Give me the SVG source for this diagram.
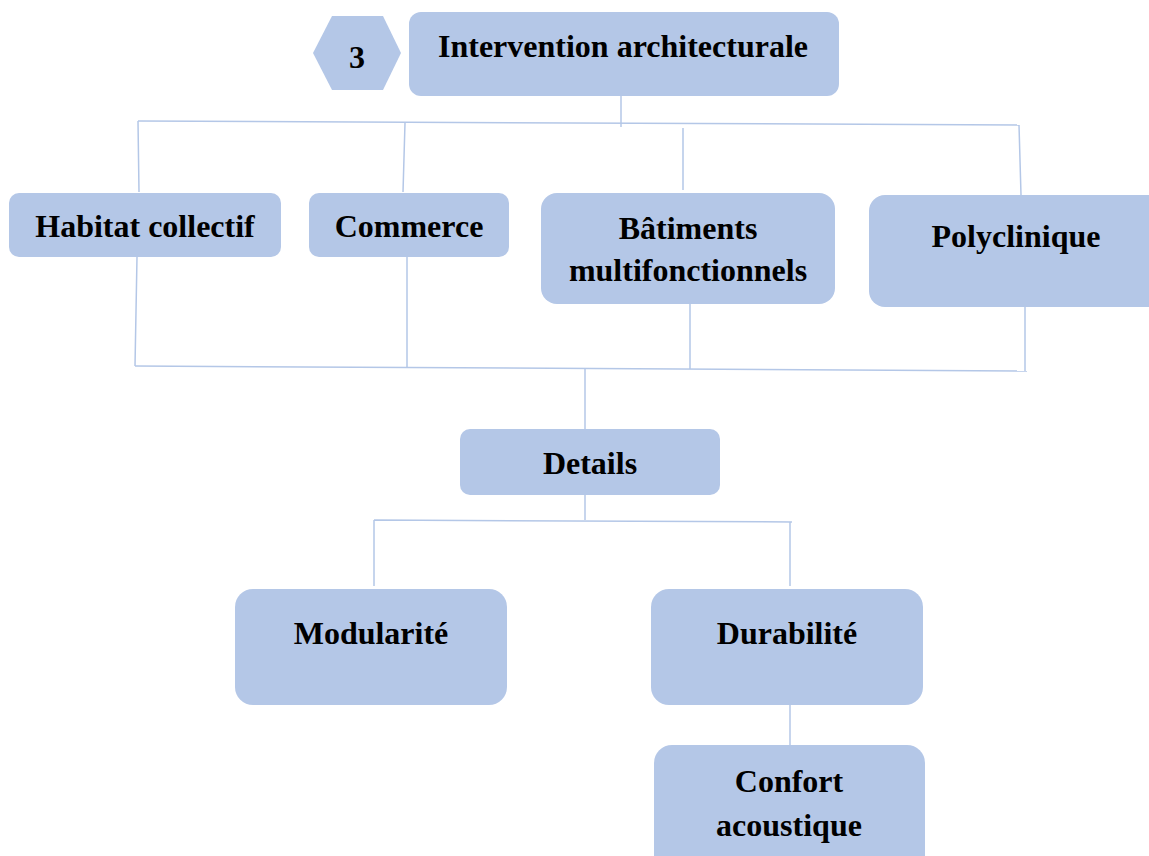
<svg xmlns="http://www.w3.org/2000/svg" width="1149" height="856" viewBox="0 0 1149 856">
<style>
.box{fill:#b4c7e7;}
.t{font-family:"Liberation Serif","Times New Roman",serif;font-weight:bold;font-size:32px;fill:#000;text-anchor:middle;}
.c{stroke:#b4c7e7;stroke-width:1.5;fill:none;}
</style>
<rect width="1149" height="856" fill="#fff"/>
<g id="connectors">
<path class="c" d="M621,96 V127"/>
<path class="c" d="M138,121 L1019,125"/>
<path class="c" d="M138,121 L139,192 M405,123 L403,192 M683,128 V190 M1019,125 L1021,195"/>
<path class="c" d="M137,257 L135,366 M407,257 V367 M690,304 V369 M1025,307 V371"/>
<path class="c" d="M135,366 L1027,371"/>
<path class="c" d="M585,369 V429"/>
<path class="c" d="M585,495 V520"/>
<path class="c" d="M374,520 L792,522 M374,520 V586 M790,522 V586"/>
<path class="c" d="M790,705 V745"/>
</g>
<g id="hex3">
<polygon class="box" points="313,53 332,16 383,16 401,53 383,90 332,90"/>
<text class="t" x="357" y="68">3</text>
</g>
<g id="intervention">
<rect class="box" x="409" y="12" width="430" height="84" rx="12"/>
<text class="t" x="623" y="57">Intervention architecturale</text>
</g>
<g id="habitat">
<rect class="box" x="9" y="193" width="272" height="64" rx="10"/>
<text class="t" x="145" y="237">Habitat collectif</text>
</g>
<g id="commerce">
<rect class="box" x="309" y="193" width="200" height="64" rx="10"/>
<text class="t" x="409" y="237">Commerce</text>
</g>
<g id="batiments">
<rect class="box" x="541" y="193" width="294" height="111" rx="16"/>
<text class="t" x="688" y="239">Bâtiments</text>
<text class="t" x="688" y="281">multifonctionnels</text>
</g>
<g id="polyclinique">
<rect class="box" x="869" y="195" width="300" height="112" rx="16"/>
<text class="t" x="1016" y="247">Polyclinique</text>
</g>
<g id="details">
<rect class="box" x="460" y="429" width="260" height="66" rx="10"/>
<text class="t" x="590" y="474">Details</text>
</g>
<g id="modularite">
<rect class="box" x="235" y="589" width="272" height="116" rx="18"/>
<text class="t" x="371" y="644">Modularité</text>
</g>
<g id="durabilite">
<rect class="box" x="651" y="589" width="272" height="116" rx="18"/>
<text class="t" x="787" y="644">Durabilité</text>
</g>
<g id="confort">
<rect class="box" x="654" y="745" width="271" height="130" rx="18"/>
<text class="t" x="789" y="792">Confort</text>
<text class="t" x="789" y="836">acoustique</text>
</g>
</svg>
